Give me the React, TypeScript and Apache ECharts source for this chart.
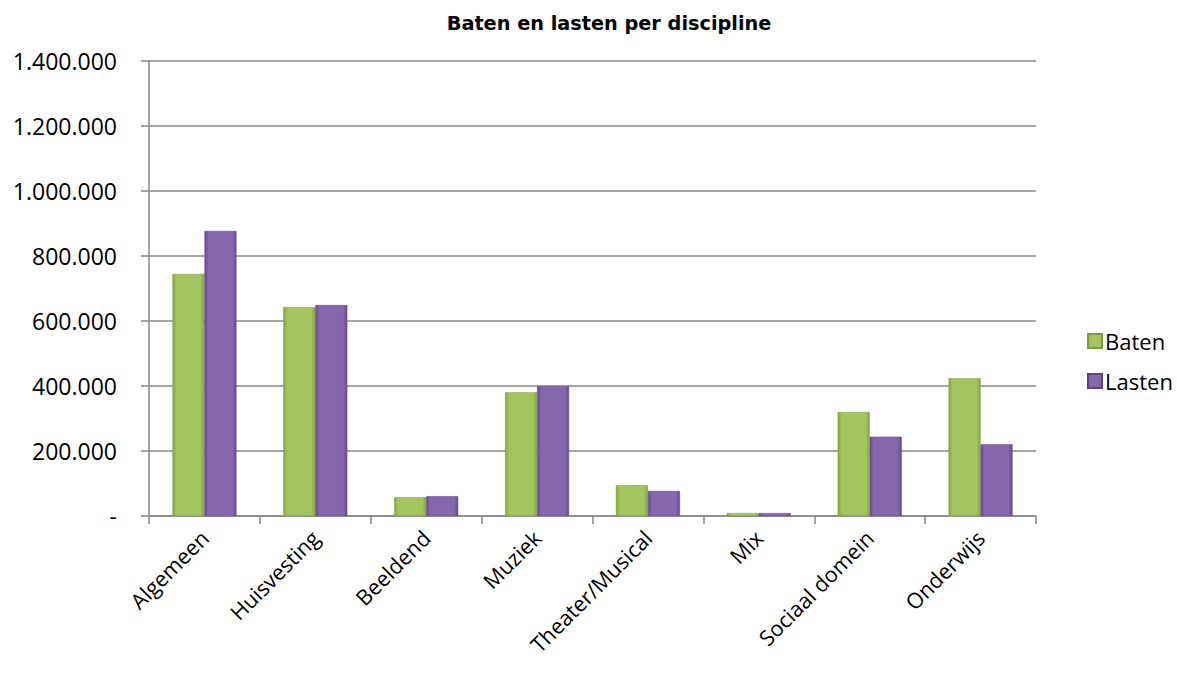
import React, { useEffect, useRef } from "react";
import * as echarts from "echarts";

const categories = ["Algemeen", "Huisvesting", "Beeldend", "Muziek", "Theater/Musical", "Mix", "Sociaal domein", "Onderwijs"];
const baten = [745000, 643000, 58000, 381000, 95000, 9000, 320000, 424000];
const lasten = [877000, 649000, 61000, 400000, 77000, 9000, 244000, 221000];
const yTicks = { min: 0, max: 1400000, interval: 200000 };

function fmt(v: number): string {
  if (v === 0) return "-";
  return String(v).replace(/\B(?=(\d{3})+(?!\d))/g, ".");
}

function grad(edge: string, mid: string) {
  return new echarts.graphic.LinearGradient(0, 0, 1, 0, [
    { offset: 0, color: edge },
    { offset: 0.12, color: mid },
    { offset: 0.88, color: mid },
    { offset: 1, color: edge },
  ]);
}

export default function App() {
  const ref = useRef<HTMLDivElement>(null);
  useEffect(() => {
    document.body.style.margin = "0";
    const chart = echarts.init(ref.current!, null, { renderer: "svg" });
    const font = "'Open Sans', sans-serif";
    chart.setOption({
      animation: false,
      backgroundColor: "#fff",
      title: {
        text: "Baten en lasten per discipline",
        left: 604,
        textAlign: "center",
        top: 9,
        textStyle: { fontFamily: "'DejaVu Sans', Verdana, sans-serif", fontSize: 19.3, fontWeight: "bold", color: "#000" },
      },
      legend: {
        orient: "vertical",
        left: 1082,
        top: 325,
        itemWidth: 14,
        itemHeight: 14,
        itemGap: 18,
        icon: "rect",
        textStyle: { fontFamily: font, fontSize: 22, color: "#000", padding: [0, 0, 0, -2] },
        data: ["Baten", "Lasten"],
      },
      grid: { left: 149, right: 141, top: 61, bottom: 157 },
      xAxis: {
        type: "category",
        data: categories,
        axisLine: { lineStyle: { color: "#888", width: 1.5 } },
        axisTick: { show: true, length: 8, lineStyle: { color: "#888", width: 1.5 } },
        axisLabel: { rotate: 45, fontFamily: font, fontSize: 21.5, color: "#000", margin: 18, interval: 0 },
      },
      yAxis: {
        type: "value",
        min: yTicks.min,
        max: yTicks.max,
        interval: yTicks.interval,
        axisLine: { show: true, lineStyle: { color: "#888", width: 1.5 } },
        axisTick: { show: true, length: 8, lineStyle: { color: "#888", width: 1.5 } },
        splitLine: { lineStyle: { color: "#888", width: 1.5 } },
        axisLabel: { fontFamily: font, fontSize: 23, color: "#000", margin: 32, formatter: (v: number) => fmt(v) },
      },
      series: [
        {
          name: "Baten",
          type: "bar",
          data: baten,
          barWidth: 32,
          barGap: "0%",
          itemStyle: { color: grad("#86A446", "#A3C45E"), borderColor: "#7F9A45", borderWidth: 0.5 },
        },
        {
          name: "Lasten",
          type: "bar",
          data: lasten,
          barWidth: 32,
          barGap: "0%",
          itemStyle: { color: grad("#674C88", "#8567AC"), borderColor: "#5F4680", borderWidth: 0.5 },
        },
      ],
    });
    return () => chart.dispose();
  }, []);
  return <div ref={ref} style={{ width: 1177, height: 673 }} />;
}
